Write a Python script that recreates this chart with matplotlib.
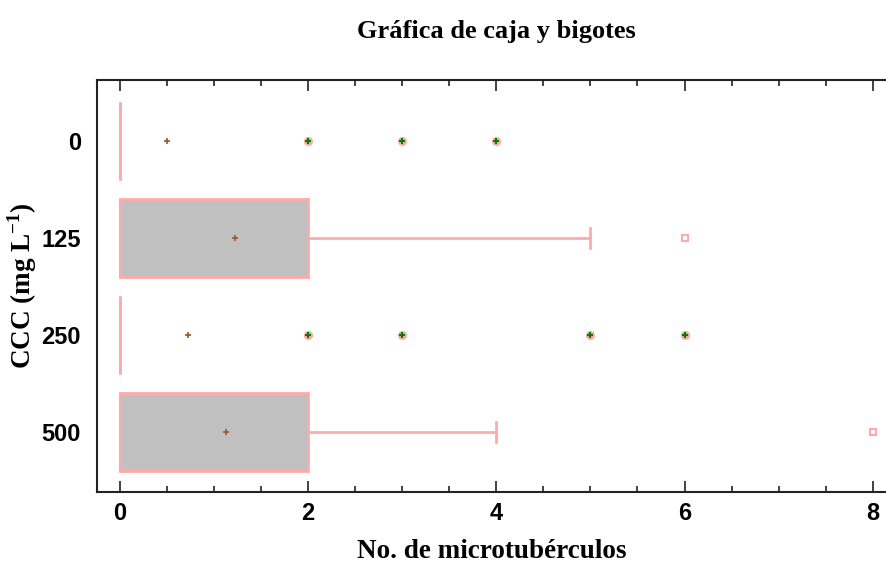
import numpy as np
import matplotlib.pyplot as plt
from matplotlib.ticker import MultipleLocator

# data
conc = ['0', '125', '250', '500']
q1 = [0, 0, 0, 0]
q3 = [0, 2, 0, 2]
med = [0, 0, 0, 0]
whis_lo = [0, 0, 0, 0]
whis_hi = [0, 5, 0, 4]
means = [0.5, 1.23, 0.73, 1.13]
outliers = [[2, 3, 4], [], [2, 3, 5, 6], []]
far_outliers = [[], [6], [], [8]]

pink = '#ffaaaa'
brown = '#a0522d'
green = '#008000'

fig = plt.figure(figsize=(8.87, 5.65), dpi=100)
ax = fig.add_axes([0.1094, 0.1292, 0.8906, 0.7292])

pos = np.arange(len(conc))
stats = []
for i in range(len(conc)):
    stats.append(dict(med=med[i], q1=q1[i], q3=q3[i],
                      whislo=whis_lo[i], whishi=whis_hi[i], fliers=[]))

ax.bxp(stats, positions=pos, widths=0.8, vert=False, patch_artist=True,
       showfliers=False, capwidths=0.2,
       boxprops=dict(facecolor='#c0c0c0', edgecolor=pink, linewidth=2),
       whiskerprops=dict(color=pink, linewidth=2),
       capprops=dict(color=pink, linewidth=2),
       medianprops=dict(color=pink, linewidth=2))

# outliers
for i in range(len(conc)):
    if outliers[i]:
        y = np.full(len(outliers[i]), pos[i])
        ax.plot(outliers[i], y, 'o', ms=5.5, mfc=pink, mec=pink, zorder=4)
        ax.plot(outliers[i], y, '+', ms=5, mew=1.5, color=green, zorder=5)
    if far_outliers[i]:
        y = np.full(len(far_outliers[i]), pos[i])
        ax.plot(far_outliers[i], y, 's', ms=5, mfc='white', mec=pink,
                mew=1.5, zorder=4)

# means
ax.plot(means, pos, '+', ms=5, mew=1.2, color=brown, zorder=6)

ax.set_xlim(-0.24, 8.15)
ax.set_ylim(3.62, -0.63)
ax.set_yticks(pos)
ax.set_yticklabels(conc)
ax.xaxis.set_major_locator(MultipleLocator(2))
ax.xaxis.set_minor_locator(MultipleLocator(0.5))
ax.tick_params(axis='x', which='both', direction='in', top=True,
               width=1.2, color='#222222')
ax.tick_params(axis='x', which='major', length=8)
ax.tick_params(axis='x', which='minor', length=4)
ax.tick_params(axis='y', length=0, pad=11.5)
ax.tick_params(axis='x', pad=7)
for lab in ax.get_xticklabels() + ax.get_yticklabels():
    lab.set_fontfamily('Liberation Sans')
    lab.set_fontweight('bold')
    lab.set_fontsize(17)

ax.spines['right'].set_visible(False)
for s in ['left', 'top', 'bottom']:
    ax.spines[s].set_linewidth(1.5)
    ax.spines[s].set_color('#222222')

ax.set_xlabel('No. de microtubérculos', family='Liberation Serif',
              weight='bold', size=19.5, labelpad=10)
ax.set_ylabel('CCC (mg L$^{\\mathregular{-1}}$)', family='Liberation Serif',
              weight='bold', size=19.5, va='center')
ax.yaxis.set_label_coords(-(97 - 22) / 790, 0.5)
fig.suptitle('Gráfica de caja y bigotes', x=0.56, y=0.965,
             family='Liberation Serif', weight='bold', size=19)

fig.savefig('out.png', dpi=100)
